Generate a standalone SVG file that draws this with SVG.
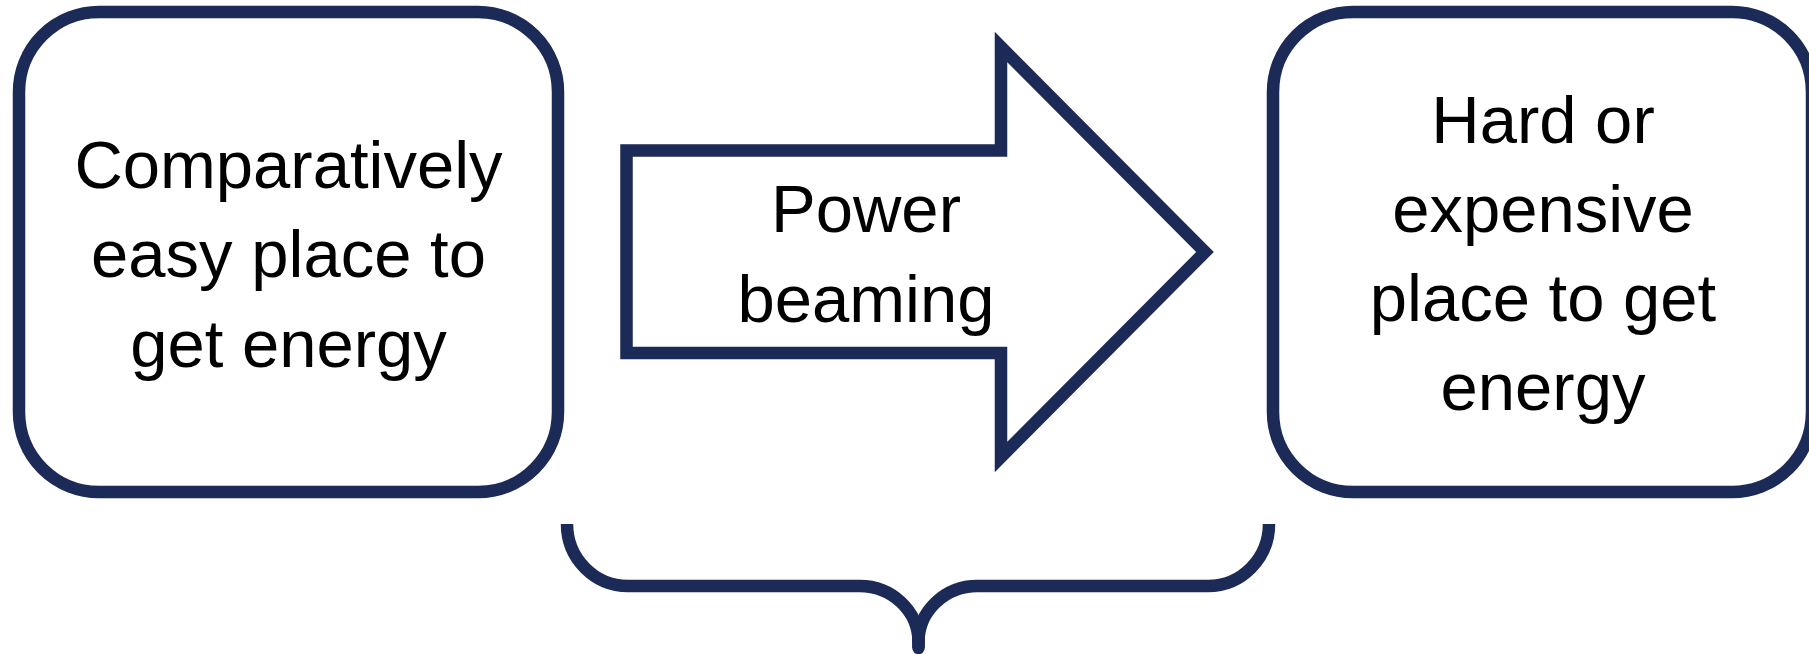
<svg xmlns="http://www.w3.org/2000/svg" width="1809" height="654" viewBox="0 0 1809 654">
<style>
.shape{fill:#ffffff;stroke:#1b2a56;stroke-width:12.5;stroke-linejoin:miter}
.lbl{font-family:"Liberation Sans",Arial,sans-serif;font-size:67px;fill:#000000;text-anchor:middle}
.brace{fill:none;stroke:#1b2a56;stroke-width:12.5}
</style>
<rect width="1809" height="654" fill="#ffffff"/>
<g id="node-easy">
<rect class="shape" x="19" y="12" width="539" height="480" rx="80" ry="80"/>
<text class="lbl" x="288.5" y="188">Comparatively</text>
<text class="lbl" x="288.5" y="277">easy place to</text>
<text class="lbl" x="288.5" y="367">get energy</text>
</g>
<g id="node-hard">
<rect class="shape" x="1273" y="12" width="539" height="480" rx="80" ry="80"/>
<text class="lbl" x="1543" y="143">Hard or</text>
<text class="lbl" x="1543" y="232">expensive</text>
<text class="lbl" x="1543" y="321">place to get</text>
<text class="lbl" x="1543" y="410">energy</text>
</g>
<g id="connectors">
<g id="arrow-power-beaming">
<path class="shape" d="M626.5,150.5 L1001,150.5 L1001,47 L1205,252 L1001,457 L1001,353 L626.5,353 Z"/>
<text class="lbl" x="866" y="232">Power</text>
<text class="lbl" x="866" y="322">beaming</text>
</g>
<g id="brace">
<path class="brace" d="M567,524 A61,62 0 0 0 628,586 L859,586 A59,56 0 0 1 918.5,642 L918.5,648"/>
<path class="brace" d="M1269,524 A61,62 0 0 1 1208,586 L978,586 A59,56 0 0 0 918.5,642"/>
<line class="brace" x1="918.5" y1="640" x2="918.5" y2="648" stroke-linecap="round"/>
</g>
</g>
</svg>
